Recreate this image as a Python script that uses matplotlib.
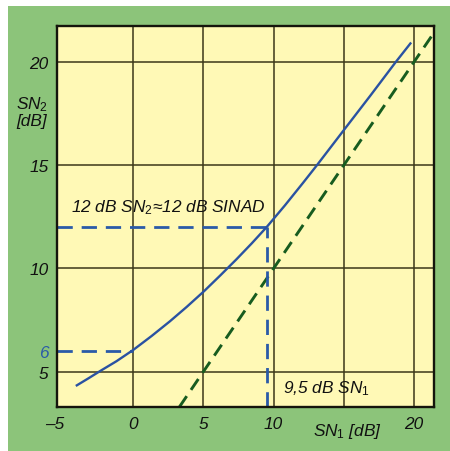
import matplotlib
matplotlib.use("Agg")
import matplotlib.pyplot as plt
from matplotlib import font_manager

# ---- data ----
sn1_curve = [-4.1, -3.2, -2.35, -1.2, 0.0, 1.3, 2.6, 3.8, 5.05, 6.2, 7.35, 8.45,
             9.5, 10.8, 12.1, 13.05, 15.0, 16.9, 18.7, 19.8]
sn2_curve = [4.3, 4.67, 5.03, 5.5, 6.05, 6.72, 7.43, 8.13, 8.9, 9.66, 10.44, 11.22,
             12.0, 13.05, 14.15, 14.97, 16.7, 18.38, 20.0, 20.95]
ref_line_x = [3.28, 21.43]          # SN2 = SN1 reference
ref_line_y = [3.28, 21.43]
marker_12_x = 9.5
marker_12_y = 12.0
marker_6_x = 0.0
marker_6_y = 6.0
x_grid = [0, 5, 10, 15, 20]
y_grid = [5, 10, 15, 20]
x_tick_vals = [-5, 0, 5, 10, 20]
x_tick_labels = ['–5', '0', '5', '10', '20']
y_tick_vals = [5, 6, 10, 15, 20]
y_tick_labels = ['5', '6', '10', '15', '20']

names = {f.name for f in font_manager.fontManager.ttflist}
fam = 'Liberation Sans Narrow' if 'Liberation Sans Narrow' in names else 'Liberation Sans'
plt.rcParams['font.family'] = [fam, 'DejaVu Sans']
plt.rcParams['mathtext.fontset'] = 'custom'
plt.rcParams['mathtext.it'] = fam + ':italic'
plt.rcParams['mathtext.rm'] = fam
plt.rcParams['mathtext.default'] = 'it'

FS = 12.4
GREEN_BG = '#8cc47a'
YELLOW = '#fff9b6'
BLUE = '#2a52a2'
DBLUE = '#2a5aa8'
DGREEN = '#175c1f'
GRID = '#3c3719'
TXT = '#111111'

fig = plt.figure(figsize=(4.5, 4.52), dpi=100)
fig.patch.set_facecolor('white')
fig.add_artist(plt.Rectangle((8/450, 0), 442/450, 445/452, transform=fig.transFigure,
                             facecolor=GREEN_BG, edgecolor='none', zorder=0))

ax = fig.add_axes([57/450, 1-408/452, (434-57)/450, (408-27)/452])
ax.set_facecolor(YELLOW)
ax.set_xlim(-5.44, 21.43)
ax.set_ylim(3.28, 21.75)

for gx in x_grid:
    ax.axvline(gx, color=GRID, lw=1.1, zorder=1)
for gy in y_grid:
    ax.axhline(gy, color=GRID, lw=1.1, zorder=1)

for s in ax.spines.values():
    s.set_color('#15150c')
    s.set_linewidth(1.7)
    s.set_zorder(5)

# green dashed reference
ax.plot(ref_line_x, ref_line_y, color=DGREEN, lw=2.1, dashes=(4.5, 2.6), zorder=3,
        dash_capstyle='butt')
# blue dashed markers
xl = ax.get_xlim()[0]
yb = ax.get_ylim()[0]
ax.plot([xl, marker_12_x], [marker_12_y, marker_12_y], color=DBLUE, lw=2.0, dashes=(5.5, 3.2), zorder=3)
ax.plot([marker_12_x, marker_12_x], [yb, marker_12_y], color=DBLUE, lw=2.0, dashes=(5.5, 3.2), zorder=3)
ax.plot([xl, marker_6_x], [marker_6_y, marker_6_y], color=DBLUE, lw=2.0, dashes=(5.5, 3.2), zorder=3)
# blue curve
ax.plot(sn1_curve, sn2_curve, color=BLUE, lw=1.7, zorder=4, solid_capstyle='butt',
        solid_joinstyle='round')

ax.set_xticks([])
ax.set_yticks(y_tick_vals)
ax.set_yticklabels(y_tick_labels, fontsize=FS, style='italic')
ax.tick_params(axis='y', length=0, pad=6)
for lab, v in zip(ax.get_yticklabels(), y_tick_vals):
    lab.set_color(DBLUE if v == 6 else TXT)

xt = ax.get_xaxis_transform()
for v, l in zip(x_tick_vals, x_tick_labels):
    xx = v - 0.6 if v == -5 else v
    ax.text(xx, -0.042, l, transform=xt, ha='center', va='center', fontsize=FS,
            style='italic', color=TXT)

ax.text(-4.45, 13.0, r'12 dB $SN_2$≈12 dB SINAD', fontsize=FS, style='italic',
        ha='left', va='center', color=TXT, zorder=6)
ax.text(10.7, 4.2, r'9,5 dB $SN_1$', fontsize=FS, style='italic',
        ha='left', va='center', color=TXT, zorder=6)
fig.text(347/450, 1-432/452, r'$SN_1$ [dB]', fontsize=FS, style='italic',
         ha='center', va='center', color=TXT)
fig.text(32/450, 1-112/452, '$SN_2$\n[dB]', fontsize=FS, style='italic',
         ha='center', va='center', color=TXT, linespacing=0.95)

fig.savefig('out.png', dpi=100, facecolor=fig.get_facecolor())
